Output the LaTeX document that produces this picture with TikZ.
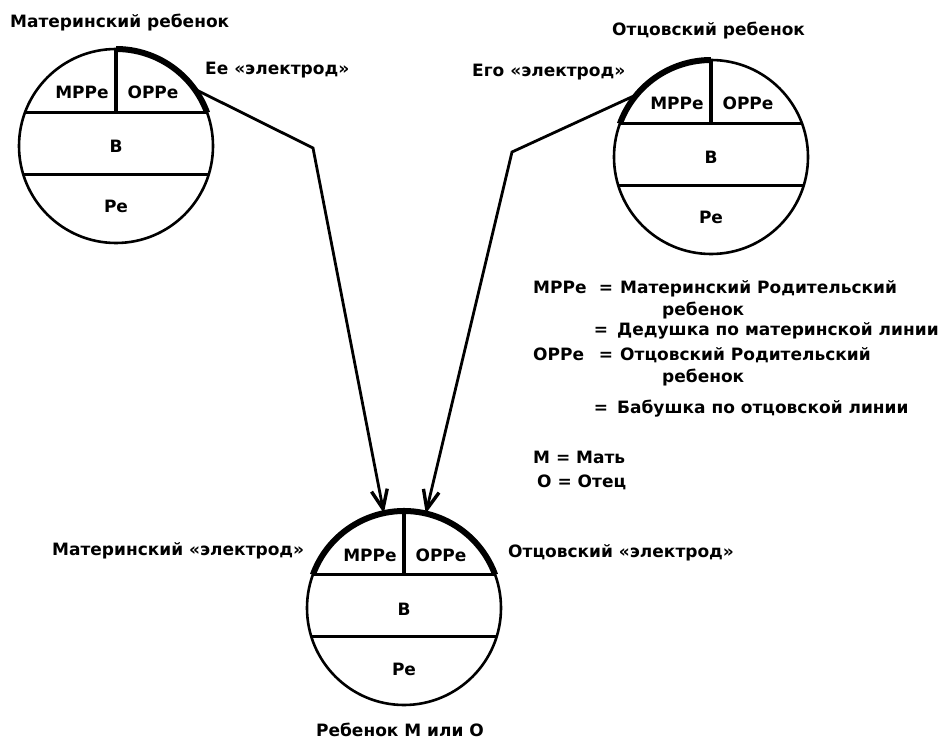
\documentclass[tikz,border=0pt]{standalone}
\usepackage{fontspec}
\setmainfont{DejaVu Sans}
\usetikzlibrary{arrows.meta}
\tikzset{
  disc/.style={circle, draw, line width=2.6pt, minimum size=194pt, inner sep=0pt, outer sep=0pt},
  rowline/.style={line width=2.8pt},
  divider/.style={line width=3.6pt},
  electrode/.style={line width=6pt},
  lbl/.style={font=\bfseries\fontsize{17}{20}\selectfont, inner sep=0pt, anchor=base},
  txt/.style={font=\bfseries\fontsize{17}{20}\selectfont, inner sep=0pt, anchor=base west},
  eqs/.style={font=\bfseries\fontsize{17}{20}\selectfont, inner sep=0pt, anchor=base},
  conn/.style={line width=2.8pt, -{Straight Barb[length=19pt,width=16pt,line width=3.4pt]}},
  child/.pic={
    \node[disc] (-c) at (0,0) {};
    \draw[rowline] (-c.160) -- (-c.20);
    \draw[rowline] (-c.197) -- (-c.-17);
    \draw[divider] (0,-97) -- (0,-33);
    \node[lbl] (-m) at (-34,-47) {МРРе};
    \node[lbl] (-o) at (37,-47) {ОРРе};
    \node[lbl] (-b) at (0,7) {В};
    \node[lbl] (-r) at (0,67) {Ре};
  }
}
\begin{document}
\begin{tikzpicture}[x=1pt,y=-1pt]
  \useasboundingbox (0,0) rectangle (946,741);

  % the three children
  \pic (L) at (116,146) {child};
  \pic (R) at (711,157) {child};
  \pic (B) at (404,608) {child};

  % the "electrodes": thick arcs over the parent-child segments
  \draw[electrode] (L-c.90) arc[start angle=90, end angle=20, radius=97pt];
  \draw[electrode] (R-c.160) arc[start angle=160, end angle=90, radius=97pt];
  \draw[electrode] (B-c.160) arc[start angle=160, end angle=20, radius=97pt];

  % connectors
  \coordinate (lbend) at (313,148);
  \coordinate (rbend) at (512,152);
  \draw[conn] (L-c.36) -- (lbend) -- (B-c.102);
  \draw[conn] (R-c.140) -- (rbend) -- (B-c.77);

  % captions
  \node[txt] (tl) at (10,28) {Материнский ребенок};
  \node[txt] (tr) at (612,36) {Отцовский ребенок};
  \node[txt] (el) at (205,75) {Ее «электрод»};
  \node[txt] (er) at (472,77) {Его «электрод»};
  \node[txt] (em) at (52,555) {Материнский «электрод»};
  \node[txt] (eo) at (508,557) {Отцовский «электрод»};
  \node[lbl] (cap) at (400,736) {Ребенок М или О};

  % legend
  \node[txt] (k1) at (533,293) {МРРе};
  \node[eqs] (q1) at (606,293) {=};
  \node[txt] (v1) at (620,293) {Материнский Родительский};
  \node[txt] (v1b) at (662,315) {ребенок};
  \node[eqs] (q1b) at (601,335) {=};
  \node[txt] (v1c) at (617,335) {Дедушка по материнской линии};
  \node[txt] (k2) at (533,360) {ОРРе};
  \node[eqs] (q2) at (606,360) {=};
  \node[txt] (v2) at (620,360) {Отцовский Родительский};
  \node[txt] (v2b) at (662,382) {ребенок};
  \node[eqs] (q2b) at (601,413) {=};
  \node[txt] (v2c) at (617,413) {Бабушка по отцовской линии};
  \node[txt] (k3) at (533,463) {М = Мать};
  \node[txt] (k4) at (537,487) {О = Отец};
\end{tikzpicture}
\end{document}
